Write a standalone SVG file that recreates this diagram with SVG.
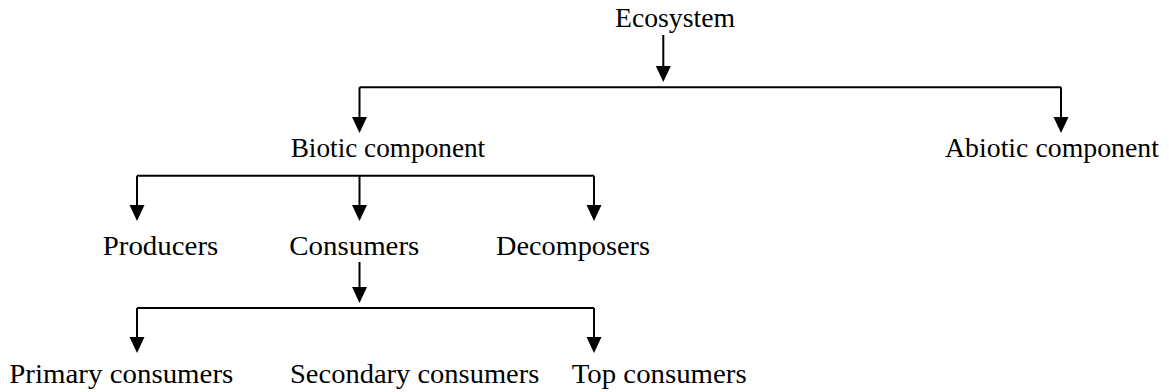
<svg xmlns="http://www.w3.org/2000/svg" width="1169" height="392" viewBox="0 0 1169 392">
<style>
.lbl{font-family:"Liberation Serif","Times New Roman",serif;font-size:28px;fill:#000}
.con{fill:none;stroke:#000;stroke-width:2}
.arr{marker-end:url(#ah)}
</style>
<defs>
<marker id="ah" viewBox="0 0 16 16" refX="10" refY="8" markerWidth="16" markerHeight="16" markerUnits="userSpaceOnUse" orient="auto">
<path d="M0,0.5 L16,8 L0,15.5 Z" fill="#000"/>
</marker>
</defs>
<rect width="1169" height="392" fill="#fff"/>
<g id="connectors">
<line class="con arr" x1="663.3" y1="35" x2="663.3" y2="76"/>
<path class="con arr" d="M359.5,87.3 L359.5,127"/>
<path class="con" d="M359.5,87.3 L1061,87.3"/>
<path class="con arr" d="M1061,87.3 L1061,127"/>
<path class="con" d="M137,175.7 L594,175.7"/>
<path class="con arr" d="M137,175.7 L137,215"/>
<path class="con arr" d="M359.5,175.7 L359.5,215"/>
<path class="con arr" d="M594,175.7 L594,215"/>
<line class="con arr" x1="359.5" y1="262" x2="359.5" y2="297"/>
<path class="con" d="M137,308 L594,308"/>
<path class="con arr" d="M137,308 L137,347"/>
<path class="con arr" d="M594,308 L594,347"/>
</g>
<g id="ecosystem"><text class="lbl" x="615" y="27" textLength="120" lengthAdjust="spacingAndGlyphs">Ecosystem</text></g>
<g id="biotic"><text class="lbl" x="290.7" y="157.3" textLength="194.5" lengthAdjust="spacingAndGlyphs">Biotic component</text></g>
<g id="abiotic"><text class="lbl" x="945" y="157.3" textLength="214" lengthAdjust="spacingAndGlyphs">Abiotic component</text></g>
<g id="producers"><text class="lbl" x="102.7" y="255" textLength="115.6" lengthAdjust="spacingAndGlyphs">Producers</text></g>
<g id="consumers"><text class="lbl" x="289.3" y="255" textLength="130" lengthAdjust="spacingAndGlyphs">Consumers</text></g>
<g id="decomposers"><text class="lbl" x="496" y="255" textLength="154" lengthAdjust="spacingAndGlyphs">Decomposers</text></g>
<g id="primary"><text class="lbl" x="9.3" y="383" textLength="224" lengthAdjust="spacingAndGlyphs">Primary consumers</text></g>
<g id="secondary"><text class="lbl" x="290" y="383" textLength="249.3" lengthAdjust="spacingAndGlyphs">Secondary consumers</text></g>
<g id="top"><text class="lbl" x="571.7" y="383" textLength="175" lengthAdjust="spacingAndGlyphs">Top consumers</text></g>
</svg>
